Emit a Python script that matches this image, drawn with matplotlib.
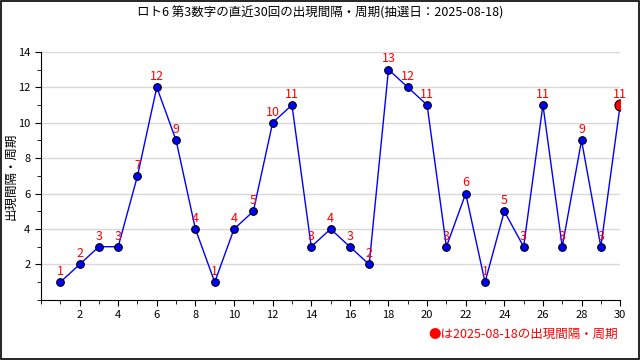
import matplotlib
matplotlib.use("Agg")
import matplotlib.pyplot as plt
from matplotlib.ticker import MultipleLocator

plt.rcParams["font.family"] = ["Noto Sans CJK JP", "DejaVu Sans"]

draw_no = list(range(1, 31))
intervals = [1, 2, 3, 3, 7, 12, 9, 4, 1, 4, 5, 10, 11, 3, 4, 3, 2, 13, 12, 11,
             3, 6, 1, 5, 3, 11, 3, 9, 3, 11]

title = "ロト6 第3数字の直近30回の出現間隔・周期(抽選日：2025-08-18)"
y_label = "出現間隔・周期"
note = "●は2025-08-18の出現間隔・周期"

fig = plt.figure(figsize=(6.4, 3.6), dpi=100)
ax = fig.add_axes([0.064, 0.167, 0.905, 0.689])

ax.plot(draw_no, intervals, color="blue", lw=1, zorder=3)
ax.plot(draw_no[:-1], intervals[:-1], "o", color="blue", mec="black",
        mew=0.8, ms=5.5, zorder=4)
ax.plot(draw_no[-1:], intervals[-1:], "o", color="red", mec="black",
        mew=0.8, ms=8, zorder=4)

for x, y in zip(draw_no, intervals):
    ax.annotate(str(y), (x, y), xytext=(0, 3), textcoords="offset points",
                ha="center", va="bottom", color="red", fontsize=9, zorder=5)

ax.set_xlim(0, 30)
ax.set_ylim(0, 14)
ax.set_xticks(range(2, 31, 2))
ax.xaxis.set_minor_locator(MultipleLocator(1))
ax.set_yticks(range(2, 15, 2))
ax.yaxis.set_minor_locator(MultipleLocator(1))
ax.tick_params(which="both", direction="out", labelsize=8, color="black")
ax.tick_params(which="major", length=4)
ax.tick_params(which="minor", length=3)
ax.tick_params(axis="x", pad=3)

ax.grid(axis="y", which="major", color="#d8d8d8", lw=1, zorder=0)
for side in ["top", "right"]:
    ax.spines[side].set_visible(False)

fig.text(11 / 640, 0.51, y_label, rotation=90, ha="center", va="center",
         fontsize=9)
fig.text(0.5, 0.965, title, ha="center", va="center", fontsize=9)
fig.text(0.966, 0.07, note, ha="right", va="center", color="red", fontsize=9)

fig.patches.append(plt.Rectangle((0.001, 0.002), 0.997, 0.996,
                                 transform=fig.transFigure, fill=False,
                                 edgecolor="black", lw=1.2))

fig.savefig("out.png", dpi=100)
